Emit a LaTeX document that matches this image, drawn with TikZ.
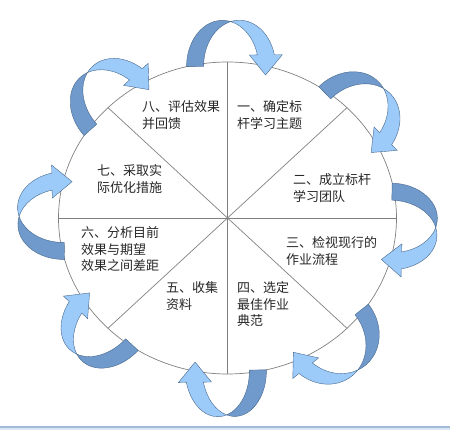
\documentclass[tikz,border=0pt]{standalone}
\usepackage{fontspec}
\newfontfamily\cjk{Noto Sans CJK SC}
\usepackage{tikz}
\usetikzlibrary{positioning, calc}
\definecolor{bandback}{RGB}{112,154,204}
\definecolor{bandfront}{RGB}{156,203,250}
\definecolor{bandline}{RGB}{72,104,140}
\definecolor{rimgray}{RGB}{128,128,128}
\definecolor{rulerblue}{RGB}{160,186,216}
\definecolor{rulerpale}{RGB}{218,230,242}

% twisted band arrow outside the rim, from parameter angle #1 to #2
\newcommand{\bandarrow}[2]{%
	\pgfmathsetmacro\rbTx{169*cos(#1)}\pgfmathsetmacro\rbTy{156*sin(#1)}%
	\pgfmathsetmacro\rbHx{169*cos(#2)}\pgfmathsetmacro\rbHy{156*sin(#2)}%
	\pgfmathsetmacro\rbRot{atan2(\rbHy-\rbTy,\rbHx-\rbTx)}%
	\pgfmathsetmacro\rbHalf{veclen(\rbHx-\rbTx,\rbHy-\rbTy)/2}%
	\pgfmathsetmacro\rbRad{\rbHalf-3.5}%
	\pgfmathsetmacro\rbCross{acos(8.5/\rbRad)}%
	\begin{scope}[shift={({(\rbTx+\rbHx)/2},{(\rbTy+\rbHy)/2})}, rotate=\rbRot]
		\filldraw[tailpart] (-\rbHalf,0)
			arc[start angle=180, end angle=\rbCross, x radius=\rbRad, y radius=46]
			arc[start angle=180-\rbCross, end angle=180, x radius=\rbRad, y radius=46] -- cycle;
		\filldraw[headpart] ({-\rbHalf+\rbRad+8.5},{46*sin(\rbCross)})
			arc[start angle=180-\rbCross, end angle=14, x radius=\rbRad, y radius=46]
			-- ++(8,0) -- (\rbHalf,-9)
			-- ({-\rbHalf+\rbRad+\rbRad*cos(14)-8},{46*sin(14)}) -- ++(8,0)
			arc[start angle=14, end angle=\rbCross, x radius=\rbRad, y radius=46] -- cycle;
	\end{scope}}

\begin{document}
\begin{tikzpicture}[x=1pt, y=1pt,
	stage/.style={font=\cjk\fontsize{13}{16.5}\selectfont, text=black!85, align=left, anchor=north west, inner sep=0pt},
	rim/.style={draw=rimgray, line width=0.7pt},
	tailpart/.style={fill=bandback, draw=bandline, line width=0.4pt},
	headpart/.style={fill=bandfront, draw=bandline, line width=0.4pt}]
	\useasboundingbox (-227.5,-212) rectangle (222.5,218);
	\coordinate (o) at (0,0);
	
	% Rim and spokes
	\draw[rim] (o) ellipse[x radius=169, y radius=156];
	\foreach \a in {0,45,...,315}
		\draw[rim] (o) -- (\a:169 and 156);
	
	% Stages
	\node[stage] (s1) at ($(o) + (9.5,117.5)$) {一、确定标\\杆学习主题};
	\node[stage] (s2) at ($(o) + (65.5,44.5)$) {二、成立标杆\\学习团队};
	\node[stage] (s3) at ($(o) + (58.5,-18.5)$) {三、检视现行的\\作业流程};
	\node[stage] (s4) at ($(o) + (9.5,-63.5)$) {四、选定\\最佳作业\\典范};
	\node[stage] (s5) at ($(o) + (-61.5,-63.5)$) {五、收集\\资料};
	\node[stage] (s6) at ($(o) + (-146.5,-8.5)$) {六、分析目前\\效果与期望\\效果之间差距};
	\node[stage] (s7) at ($(o) + (-130.5,53.5)$) {七、采取实\\际优化措施};
	\node[stage] (s8) at ($(o) + (-85.5,117.5)$) {八、评估效果\\并回馈};
	
	% Turning arrows
	\bandarrow{104}{77}
	\bandarrow{57.3}{27.4}
	\bandarrow{12.9}{-15.5}
	\bandarrow{-33.5}{-65}
	\bandarrow{-76.7}{-101}
	\bandarrow{-121.9}{-148.5}
	\bandarrow{-164.6}{-193.4}
	\bandarrow{148.1}{120}
	
	% Rule at the foot
	\coordinate (rl) at (-227.5,-209);
	\coordinate (rr) at (222.5,-209);
	\draw[rulerblue, line width=1.5pt] (rl) -- (rr);
	\draw[rulerpale, line width=1.5pt] ($(rl)+(0,-2)$) -- ($(rr)+(0,-2)$);
\end{tikzpicture}
\end{document}
